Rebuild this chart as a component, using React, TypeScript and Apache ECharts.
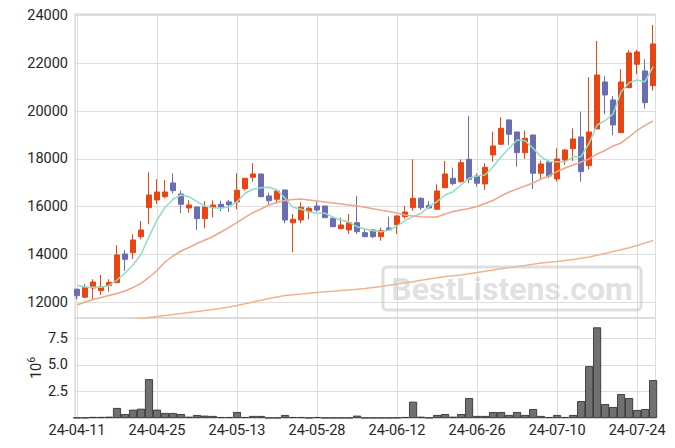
import React, { useEffect, useRef } from "react";
import * as echarts from "echarts";

const dates = [
  "24-04-11","24-04-12","24-04-15","24-04-16","24-04-17","24-04-18","24-04-19","24-04-22","24-04-23","24-04-24",
  "24-04-25","24-04-26","24-04-29","24-04-30","24-05-02","24-05-03","24-05-07","24-05-08","24-05-09","24-05-10",
  "24-05-13","24-05-14","24-05-16","24-05-17","24-05-20","24-05-21","24-05-22","24-05-23","24-05-24","24-05-27",
  "24-05-28","24-05-29","24-05-30","24-05-31","24-06-03","24-06-04","24-06-05","24-06-07","24-06-10","24-06-11",
  "24-06-12","24-06-13","24-06-14","24-06-17","24-06-18","24-06-19","24-06-20","24-06-21","24-06-24","24-06-25",
  "24-06-26","24-06-27","24-06-28","24-07-01","24-07-02","24-07-03","24-07-04","24-07-05","24-07-08","24-07-09",
  "24-07-10","24-07-11","24-07-12","24-07-15","24-07-16","24-07-17","24-07-18","24-07-19","24-07-22","24-07-23",
  "24-07-24","24-07-25","24-07-26",
];

const opens = [
  12544,12209,12598,12485,12695,12820,14021,14075,14745,15958,
  16280,16418,16991,16531,15946,15987,15498,15958,16100,16197,
  16197,16753,17230,17368,16448,16310,16699,15330,15443,15791,
  16029,16029,15515,15079,15025,15330,14912,15025,14745,15109,
  15247,15582,15958,16351,16058,15891,16795,17188,17046,17983,
  17284,16950,18163,18611,19628,19125,18259,19000,17397,17870,
  17159,17954,18427,18916,17715,19251,21217,20464,19096,20979,
  21958,21677,21062,
];
const closes = [
  12276,12628,12849,12640,12837,13979,13799,14607,15025,16490,
  16615,16615,16669,16100,16071,15498,15987,16071,15987,16084,
  16686,17188,17368,16418,16251,16657,15443,15473,15975,15933,
  15862,15540,15163,15234,15330,14954,14745,14745,14996,15025,
  15611,15778,16351,15958,15946,16657,17368,16962,17841,17146,
  16979,17648,18540,19280,19029,18259,18862,17397,17786,17284,
  17996,18372,18833,17464,19125,21510,20673,19418,21217,22431,
  22473,20351,22807,
];
const lows = [
  12126,12200,12126,12305,12444,12820,13310,13812,14636,15264,
  16113,16351,16561,15724,15749,15025,15096,15556,15807,15778,
  15891,16669,17046,16393,16100,16142,15305,14092,15305,15473,
  15791,15540,15138,15054,14858,14858,14720,14678,14577,15025,
  14858,15498,15820,15862,15920,15870,16770,16895,17004,16979,
  16837,16699,17883,18582,18582,17673,17996,16740,17146,17188,
  17046,17745,17912,17046,17565,19251,19866,18987,19096,20954,
  21540,20100,20853,
];
const highs = [
  12577,12753,12962,13142,12962,14385,14188,14845,15402,17439,
  17146,17117,17397,16669,16268,15987,16226,16268,16251,16280,
  17397,17188,17816,17368,16586,16657,16699,15694,16184,16000,
  16209,16029,15582,15540,15694,16448,15096,15067,15121,15582,
  15653,16029,17983,16393,16238,16937,17912,17632,17983,19795,
  17397,17816,19138,19740,19650,19125,19180,19000,17925,17954,
  18443,18414,19280,19975,21414,22933,21468,20632,21749,22544,
  22556,22167,23602,
];

const maShort = [
  12711,12640,12628,12628,12695,12933,13213,13561,14008,14745,
  15443,15966,16310,16489,16418,16209,16029,15958,15933,16000,
  16209,16561,16728,16795,16812,16699,16351,15975,15891,15791,
  15724,15724,15556,15443,15347,15163,15067,14996,14954,15025,
  15192,15414,15582,15724,16000,16209,16489,16627,16908,17188,
  17284,17326,17674,18092,18443,18791,18761,18443,18092,17883,
  17883,17870,18092,18092,18653,19418,19598,19878,20812,21188,
  21301,21230,21858,
];
const maMid = [
  11887,12013,12117,12201,12285,12368,12473,12619,12795,13038,
  13331,13686,13937,14146,14293,14460,14607,14753,14941,15130,
  15330,15556,15749,15904,16071,16176,16259,16301,16322,16280,
  16238,16197,16155,16113,16071,16029,15975,15916,15849,15799,
  15736,15653,15611,15582,15569,15569,15694,15799,15862,15925,
  16008,16134,16259,16448,16615,16741,16866,16992,17159,17284,
  17473,17619,17744,17870,17996,18205,18351,18540,18665,18916,
  19188,19397,19586,
];
const maLong = [
  10967,11008,11050,11092,11142,11188,11239,11280,11322,11364,
  11406,11448,11490,11531,11573,11615,11657,11703,11749,11803,
  11866,11937,12013,12088,12159,12222,12285,12318,12347,12381,
  12410,12439,12464,12490,12515,12544,12577,12619,12661,12711,
  12766,12816,12862,12920,12975,13029,13079,13113,13142,13197,
  13247,13301,13351,13406,13456,13498,13540,13594,13644,13674,
  13707,13749,13791,13841,13895,13966,14042,14125,14201,14284,
  14377,14481,14586,
];

// volume, in millions
const volumes = [
  0.03,0.03,0.1,0.1,0.12,0.94,0.37,0.78,0.87,3.65,
  0.78,0.47,0.47,0.37,0.12,0.28,0.22,0.19,0.09,0.09,
  0.56,0.09,0.19,0.19,0.02,0.02,0.28,0.09,0.09,0.02,
  0.09,0.02,0.02,0.02,0.02,0.22,0.02,0.02,0.02,0.02,
  0.03,0.09,1.53,0.12,0.03,0.28,0.37,0.12,0.37,1.87,
  0.19,0.19,0.56,0.56,0.28,0.56,0.28,0.84,0.19,0.09,
  0.28,0.09,0.28,1.59,4.87,8.52,1.31,1.03,2.25,1.87,
  0.75,0.84,3.56,
];

const UP = "#e64614";
const DOWN = "#6a6eb0";
const FONT = "Roboto";

export default function App() {
  const ref = useRef<HTMLDivElement>(null);
  useEffect(() => {
    if (!ref.current) return;
    const chart = echarts.init(ref.current, undefined, { renderer: "svg" });
    const candleData = dates.map((_, i) => [i, opens[i], closes[i], lows[i], highs[i]]);
    const line = (arr: number[], color: string) => ({
      type: "line",
      xAxisIndex: 0,
      yAxisIndex: 0,
      data: arr.map((v, i) => [i, v]),
      showSymbol: false,
      symbol: "none",
      clip: true,
      z: 5,
      lineStyle: { color, width: 1.5 },
    });
    const xLabel = (v: number) =>
      Number.isInteger(v) && v % 10 === 0 && dates[v] ? dates[v] : "";
    const commonX = {
      type: "value",
      min: -0.25,
      max: 72.3,
      axisLine: { show: false },
      axisTick: { show: false },
      splitLine: { show: true, lineStyle: { color: "#dddddd", width: 1 } },
    };
    chart.setOption({
      animation: false,
      backgroundColor: "#ffffff",
      grid: [
        { left: 75, width: 580.5, top: 14, height: 304, show: true, borderColor: "#cccccc", borderWidth: 1 },
        { left: 75, width: 580.5, top: 318, height: 100, show: true, borderColor: "#cccccc", borderWidth: 1 },
      ],
      xAxis: [
        { ...commonX, gridIndex: 0, axisLabel: { show: false, formatter: xLabel } },
        {
          ...commonX,
          gridIndex: 1,
          axisLabel: { show: true, formatter: xLabel, color: "#262626", fontFamily: FONT, fontSize: 14.5, margin: 5 },
        },
      ],
      yAxis: [
        {
          type: "value",
          gridIndex: 0,
          min: 11343,
          max: 24060,
          splitNumber: 6,
          scale: true,
          axisLine: { show: false },
          axisTick: { show: false },
          splitLine: { show: true, lineStyle: { color: "#dddddd", width: 1 } },
          axisLabel: {
            formatter: (v: number) => (v % 2000 === 0 ? String(v) : ""),
            color: "#262626",
            fontFamily: FONT,
            fontSize: 14.5,
            margin: 7,
          },
        },
        {
          type: "value",
          gridIndex: 1,
          min: 0,
          max: 9.4,
          interval: 2.5,
          axisLine: { show: false },
          axisTick: { show: false },
          splitLine: { show: true, lineStyle: { color: "#dddddd", width: 1 } },
          axisLabel: {
            formatter: (v: number) => (v > 0 && v < 9 ? v.toFixed(1) : ""),
            color: "#262626",
            fontFamily: FONT,
            fontSize: 14.5,
            margin: 7,
          },
          name: "{a|10}{b|6}",
          nameLocation: "middle",
          nameRotate: 90,
          nameGap: 31,
          nameMoveOverlap: false,
          nameTextStyle: {
            color: "#262626",
            fontFamily: FONT,
            fontSize: 14.5,
            rich: {
              a: { fontFamily: FONT, fontSize: 14.5, color: "#262626", lineHeight: 18, verticalAlign: "bottom" },
              b: { fontFamily: FONT, fontSize: 10.5, color: "#262626", lineHeight: 18, verticalAlign: "top" },
            },
          },
        },
      ],
      series: [
        {
          type: "candlestick",
          xAxisIndex: 0,
          yAxisIndex: 0,
          data: candleData,
          encode: { x: 0, y: [1, 2, 3, 4] },
          barWidth: 5,
          clip: true,
          itemStyle: {
            color: UP,
            color0: DOWN,
            borderColor: UP,
            borderColor0: DOWN,
            borderWidth: 1,
          },
          z: 3,
        },
        line(maShort, "#92dcc4"),
        line(maMid, "#eea68a"),
        line(maLong, "#f0b48c"),
        {
          type: "bar",
          xAxisIndex: 1,
          yAxisIndex: 1,
          data: volumes.map((v, i) => [i, v]),
          barWidth: 8,
          clip: true,
          itemStyle: { color: "#707070", borderColor: "#262626", borderWidth: 0.8 },
        },
      ],
      graphic: [
        {
          type: "rect",
          shape: { x: 383, y: 267, width: 258, height: 43, r: 4 },
          style: { fill: "none", stroke: "rgba(200,200,200,0.6)", lineWidth: 3 },
          z: 100,
        },
        {
          type: "text",
          x: 512,
          y: 289,
          style: {
            text: "BestListens.com",
            font: "bold 32px Roboto",
            fill: "rgba(200,200,200,0.55)",
            align: "center",
            verticalAlign: "middle",
          },
          z: 100,
        },
      ],
    });
    return () => chart.dispose();
  }, []);
  return (
    <div
      ref={ref}
      style={{ position: "absolute", left: 0, top: 0, width: 675, height: 448 }}
    />
  );
}
